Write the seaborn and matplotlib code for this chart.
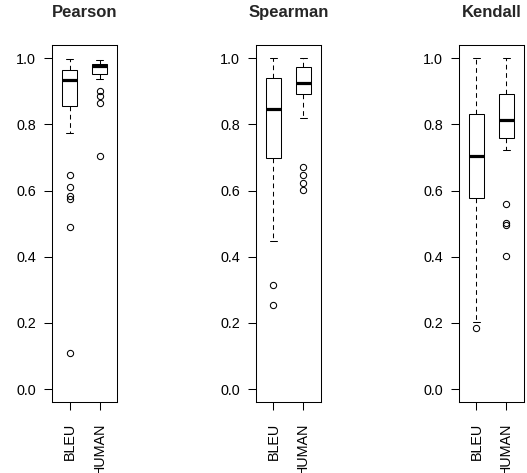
import matplotlib
matplotlib.use("Agg")
import matplotlib.pyplot as plt
import seaborn as sns
import pandas as pd

# 세 가지 상관계수별 BLEU / HUMAN 분포
methods = ["BLEU", "HUMAN"]
titles = ["Pearson", "Spearman", "Kendall"]

pearson_bleu = [0.109, 0.490, 0.573, 0.583, 0.610, 0.648, 0.773,
                0.855, 0.870, 0.880, 0.890, 0.900, 0.910, 0.920,
                0.934, 0.940, 0.945, 0.950, 0.955, 0.958, 0.961,
                0.964, 0.968, 0.972, 0.977, 0.982, 0.988, 0.993, 0.997]
pearson_human = [0.705, 0.866, 0.887, 0.902, 0.937,
                 0.952, 0.957, 0.962, 0.966, 0.970,
                 0.975, 0.977, 0.979, 0.980, 0.981,
                 0.983, 0.986, 0.988, 0.990, 0.993, 0.995]

spearman_bleu = [0.254, 0.316, 0.447,
                 0.699, 0.760, 0.810,
                 0.848, 0.880, 0.910,
                 0.939, 0.960, 0.980, 1.000]
spearman_human = [0.601, 0.624, 0.648, 0.672, 0.818,
                  0.893, 0.900, 0.907, 0.913, 0.919,
                  0.924, 0.930, 0.940, 0.952, 0.962,
                  0.972, 0.978, 0.985, 0.990, 0.995, 1.000]

kendall_bleu = [0.184, 0.202, 0.577, 0.640, 0.703, 0.770, 0.832, 0.920, 1.000]
kendall_human = [0.401, 0.497, 0.502, 0.558, 0.724,
                 0.760, 0.770, 0.780, 0.790, 0.800,
                 0.812, 0.830, 0.845, 0.860, 0.875,
                 0.891, 0.910, 0.935, 0.960, 0.980, 1.000]

panels = [
    (pearson_bleu, pearson_human),
    (spearman_bleu, spearman_human),
    (kendall_bleu, kendall_human),
]

sns.set_style("white")
plt.rcParams['font.family'] = ['Liberation Sans', 'DejaVu Sans']

fig = plt.figure(figsize=(5.27, 4.73), dpi=100)
lefts = [0.0992, 0.4858, 0.8710]

for left, title, (bleu, human) in zip(lefts, titles, panels):
    ax = fig.add_axes([left, 0.1495, 0.1228, 0.7554])
    df = pd.DataFrame({
        "method": ["BLEU"] * len(bleu) + ["HUMAN"] * len(human),
        "value": bleu + human,
    })
    sns.boxplot(data=df, x="method", y="value", order=methods, ax=ax,
                width=0.5, color="white", linecolor="black", linewidth=0.75,
                fliersize=4.5,
                flierprops=dict(marker="o", markerfacecolor="none",
                                markeredgecolor="black", markeredgewidth=0.75),
                medianprops=dict(linewidth=2.3, color="black"),
                whiskerprops=dict(linestyle=(0, (4.5, 3.5))),
                capprops=dict(linestyle="-"))
    ax.set_xlim(-0.58, 1.58)
    ax.set_ylim(-0.04, 1.04)
    ax.set_yticks([0.0, 0.2, 0.4, 0.6, 0.8, 1.0])
    ax.set_yticklabels(["0.0", "0.2", "0.4", "0.6", "0.8", "1.0"])
    ax.set_xlabel("")
    ax.set_ylabel("")
    ax.tick_params(axis="both", direction="out", length=5.8, width=0.75,
                   color="black", labelsize=10.4, labelcolor="black")
    ax.tick_params(axis="y", pad=5.8, left=True)
    ax.tick_params(axis="x", pad=8.6, bottom=True, labelrotation=90)
    for s in ax.spines.values():
        s.set_color("black")
        s.set_linewidth(0.75)
    ax.set_title(title, fontsize=12, fontweight="bold", pad=20)

fig.savefig("out.png", dpi=100)
plt.close()
